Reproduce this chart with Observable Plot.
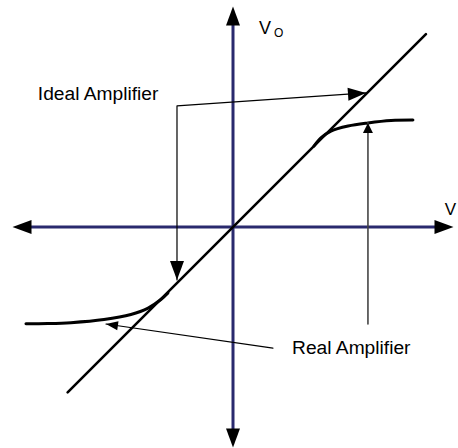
<!DOCTYPE html>
<html>
<head>
<meta charset="utf-8">
<script src="https://cdn.jsdelivr.net/npm/d3@7"></script>
<script src="https://cdn.jsdelivr.net/npm/@observablehq/plot@0.6"></script>
<style>
  html, body { margin: 0; padding: 0; background: #fff; }
  #chart { width: 458px; height: 448px; overflow: hidden; }
</style>
</head>
<body>
<div id="chart"></div>
<script>
// ---- data (in chart units: Vi horizontal, Vo vertical) ----
const axisExtent = [-10, 10];
const idealVi = [-7.5, 8.75];
const idealVo = [-7.5, 8.75];
const realUpperVi = [3.67, 4.0, 4.44, 5.22, 6.12, 7.17, 8.16];
const realUpperVo = [3.67, 4.05, 4.35, 4.58, 4.72, 4.83, 4.85];
const realLowerVi = [-9.39, -8.4, -7.35, -5.85, -4.63, -3.85, -3.27, -2.95];
const realLowerVo = [-4.39, -4.38, -4.34, -4.2, -3.97, -3.68, -3.29, -2.99];
// annotation leader geometry
const idealLabel = "Ideal Amplifier";
const idealLabelPos = [-8.85, 6.05];
const idealCorner = [-2.54, 5.49];
const idealTipUpper = [6.03, 6.08];
const idealTipLower = [-2.54, -2.4];
const realLabel = "Real Amplifier";
const realLabelPos = [2.68, -5.49];
const realStart = [1.81, -5.49];
const realTip = [-5.76, -4.4];
const satStart = [6.12, -4.4];
const satTip = [6.12, 4.72];
const voLabelPos = [1.18, 9.02];
const voSubPos = [1.86, 8.8];
const viLabelPos = [9.6, 0.8];

const axisColor = "#2a2a6e";

function head(len, wid) {
  return {
    draw(context, l) {
      context.moveTo(0, -l);
      context.lineTo(wid / 2, -l + len);
      context.lineTo(-wid / 2, -l + len);
      context.closePath();
    }
  };
}
function angle(from, to) {
  return Math.atan2(to[0] - from[0], to[1] - from[1]) * 180 / Math.PI;
}

const ideal = idealVi.map((v, i) => ({vi: v, vo: idealVo[i]}));
const real = [
  ...realUpperVi.map((v, i) => ({vi: v, vo: realUpperVo[i], part: "upper"})),
  ...realLowerVi.map((v, i) => ({vi: v, vo: realLowerVo[i], part: "lower"}))
];

const axisHeads = [
  {x: 0, y: axisExtent[1], r: 0},
  {x: 0, y: axisExtent[0], r: 180},
  {x: axisExtent[1], y: 0, r: 90},
  {x: axisExtent[0], y: 0, r: 270}
];

const idealPath = [
  {x: idealTipLower[0], y: idealTipLower[1]},
  {x: idealCorner[0], y: idealCorner[1]},
  {x: idealTipUpper[0], y: idealTipUpper[1]}
];
const idealHeads = [
  {x: idealTipUpper[0], y: idealTipUpper[1], r: angle(idealCorner, idealTipUpper)},
  {x: idealTipLower[0], y: idealTipLower[1], r: angle(idealCorner, idealTipLower)}
];

const chart = Plot.plot({
  width: 458,
  height: 448,
  marginLeft: 12,
  marginRight: 5,
  marginTop: 6,
  marginBottom: 1,
  x: {domain: axisExtent, axis: null},
  y: {domain: axisExtent, axis: null},
  style: {fontFamily: "'Liberation Sans', Arial, Helvetica, sans-serif", background: "#fff"},
  marks: [
    // axes
    Plot.ruleY([0], {x1: axisExtent[0] + 0.8, x2: axisExtent[1] - 0.8, stroke: axisColor, strokeWidth: 3}),
    Plot.ruleX([0], {y1: axisExtent[0] + 0.8, y2: axisExtent[1] - 0.8, stroke: axisColor, strokeWidth: 3}),
    Plot.vector(axisHeads, {x: "x", y: "y", rotate: "r", length: 19, anchor: "end", shape: head(19, 14), fill: "black", stroke: "none"}),
    // ideal transfer line
    Plot.line(ideal, {x: "vi", y: "vo", stroke: "black", strokeWidth: 2.6}),
    // real transfer curve
    Plot.line(real, {x: "vi", y: "vo", z: "part", stroke: "black", strokeWidth: 3, curve: "catmull-rom"}),
    // ideal annotation
    Plot.line(idealPath, {x: "x", y: "y", stroke: "black", strokeWidth: 1.2}),
    Plot.vector([idealHeads[0]], {x: "x", y: "y", rotate: "r", length: 18, anchor: "end", shape: head(18, 13), fill: "black", stroke: "none"}),
    Plot.vector([idealHeads[1]], {x: "x", y: "y", rotate: "r", length: 19, anchor: "end", shape: head(19, 14), fill: "black", stroke: "none"}),
    Plot.text([idealLabel], {x: idealLabelPos[0], y: idealLabelPos[1], text: d => d, textAnchor: "start", fontSize: 19.2, fill: "black"}),
    // real annotation
    Plot.line([realStart, realTip], {x: d => d[0], y: d => d[1], stroke: "black", strokeWidth: 1.2}),
    Plot.vector([{x: realTip[0], y: realTip[1], r: angle(realStart, realTip)}], {x: "x", y: "y", rotate: "r", length: 12, anchor: "end", shape: head(12, 9), fill: "black", stroke: "none"}),
    Plot.line([satStart, satTip], {x: d => d[0], y: d => d[1], stroke: "#444", strokeWidth: 1.6}),
    Plot.vector([{x: satTip[0], y: satTip[1], r: angle(satStart, satTip)}], {x: "x", y: "y", rotate: "r", length: 10, anchor: "end", shape: head(10, 10), fill: "black", stroke: "none"}),
    Plot.text([realLabel], {x: realLabelPos[0], y: realLabelPos[1], text: d => d, textAnchor: "start", fontSize: 19.2, fill: "black"}),
    // axis labels
    Plot.text(["V"], {x: voLabelPos[0], y: voLabelPos[1], text: d => d, textAnchor: "start", fontSize: 18, fill: "black"}),
    Plot.text(["O"], {x: voSubPos[0], y: voSubPos[1], text: d => d, textAnchor: "start", fontSize: 12, fill: "black"}),
    Plot.text(["V"], {x: viLabelPos[0], y: viLabelPos[1], text: d => d, textAnchor: "start", fontSize: 17, fill: "black"})
  ]
});
document.getElementById("chart").append(chart);
</script>
</body>
</html>
